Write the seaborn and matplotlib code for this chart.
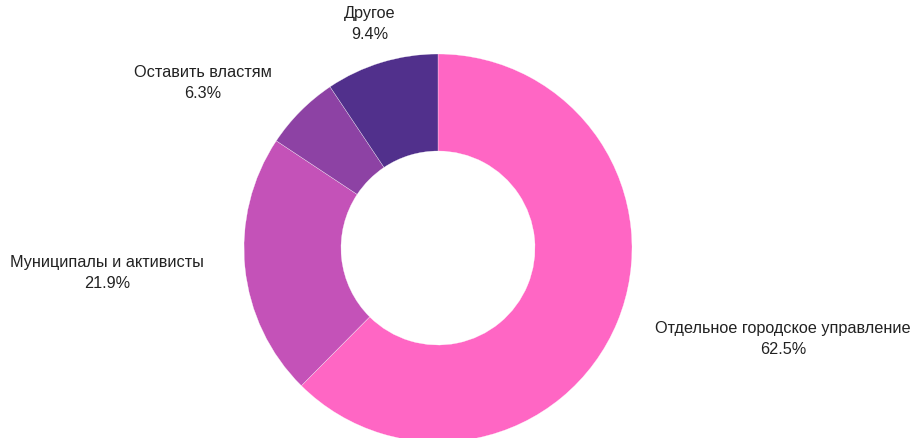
import numpy as np
import matplotlib
matplotlib.use("Agg")
import matplotlib.pyplot as plt
import seaborn as sns

categories = ["Отдельное городское управление", "Муниципалы и активисты",
              "Оставить властям", "Другое"]
shares = [62.5, 21.9, 6.3, 9.4]
colors = ["#FF66C4", "#C452B8", "#8D42A4", "#51308C"]

sns.set_theme(style="white")
plt.rcParams["font.family"] = ["Liberation Sans", "DejaVu Sans"]

W, H = 912, 439
fig = plt.figure(figsize=(W / 100, H / 100), dpi=100)
ax = fig.add_axes([0, 0, 1, 1])

cx, cy = 438, H - 249
radius = 194

wedges, _ = ax.pie(shares, colors=colors, startangle=90, counterclock=False,
                   center=(cx, cy), radius=radius, frame=True,
                   wedgeprops=dict(width=radius * 0.5, edgecolor="white", linewidth=0.2))
ax.set_xlim(0, W)
ax.set_ylim(0, H)
ax.set_axis_off()

label_r = 235
for w, name, val in zip(wedges, categories, shares):
    mid = np.deg2rad((w.theta1 + w.theta2) / 2)
    dx, dy = np.cos(mid), np.sin(mid)
    if dx > 0.3:
        ha = "left"
    elif dx < -0.3:
        ha = "right"
    else:
        ha = "center"
    ax.text(cx + label_r * dx, cy + label_r * dy, f"{name}\n{val}%",
            ha=ha, va="center", multialignment="center",
            fontsize=11.7, color="#222222", linespacing=1.5)

fig.savefig("out.png", dpi=100)
